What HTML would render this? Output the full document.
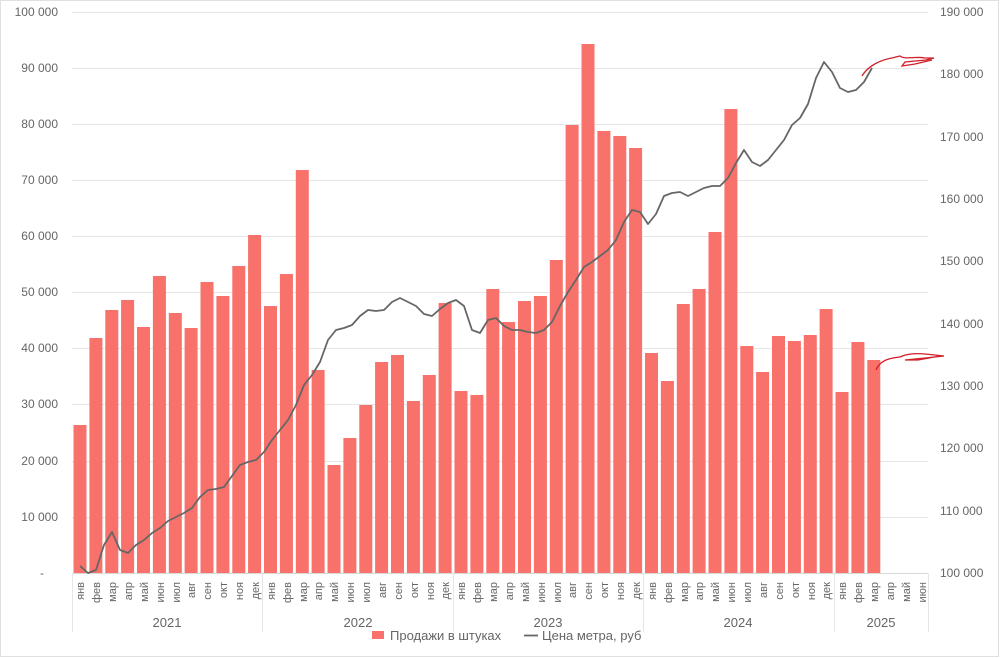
<!DOCTYPE html>
<html><head><meta charset="utf-8"><style>
body{margin:0;background:#fff}
svg{display:block;font-family:"Liberation Sans",sans-serif}
</style></head><body>
<svg width="1000" height="658" viewBox="0 0 1000 658" xmlns="http://www.w3.org/2000/svg">
<rect x="0.5" y="0.5" width="998" height="656" fill="#fff" stroke="#e0e0e0"/>
<g stroke="#e6e6e6" stroke-width="1">
<line x1="72" x2="928" y1="12.5" y2="12.5"/><line x1="72" x2="928" y1="68.5" y2="68.5"/><line x1="72" x2="928" y1="124.5" y2="124.5"/><line x1="72" x2="928" y1="180.5" y2="180.5"/><line x1="72" x2="928" y1="236.5" y2="236.5"/><line x1="72" x2="928" y1="292.5" y2="292.5"/><line x1="72" x2="928" y1="348.5" y2="348.5"/><line x1="72" x2="928" y1="404.5" y2="404.5"/><line x1="72" x2="928" y1="461.5" y2="461.5"/><line x1="72" x2="928" y1="517.5" y2="517.5"/>
<line x1="72" x2="928" y1="573.5" y2="573.5" stroke="#d9d9d9"/>
<line x1="72.5" x2="72.5" y1="573" y2="632"/><line x1="262.5" x2="262.5" y1="573" y2="632"/><line x1="453.5" x2="453.5" y1="573" y2="632"/><line x1="643.5" x2="643.5" y1="573" y2="632"/><line x1="834.5" x2="834.5" y1="573" y2="632"/><line x1="928.5" x2="928.5" y1="573" y2="632"/>
</g>
<g font-size="12" fill="#666" text-anchor="end">
<text x="58" y="16">100 000</text><text x="58" y="72">90 000</text><text x="58" y="128">80 000</text><text x="58" y="184">70 000</text><text x="58" y="240">60 000</text><text x="58" y="296">50 000</text><text x="58" y="352">40 000</text><text x="58" y="408">30 000</text><text x="58" y="465">20 000</text><text x="58" y="521">10 000</text><text x="44" y="577">-</text>
</g>
<g font-size="12" fill="#666" text-anchor="start">
<text x="940" y="16">190 000</text><text x="940" y="78">180 000</text><text x="940" y="141">170 000</text><text x="940" y="203">160 000</text><text x="940" y="265">150 000</text><text x="940" y="328">140 000</text><text x="940" y="390">130 000</text><text x="940" y="452">120 000</text><text x="940" y="515">110 000</text><text x="940" y="577">100 000</text>
</g>
<g fill="#f8716a">
<rect x="73.5" y="425" width="13" height="148"/><rect x="89.4" y="338" width="13" height="235"/><rect x="105.3" y="310" width="13" height="263"/><rect x="121.1" y="300" width="13" height="273"/><rect x="137" y="327" width="13" height="246"/><rect x="152.9" y="276" width="13" height="297"/><rect x="168.8" y="313" width="13" height="260"/><rect x="184.6" y="328" width="13" height="245"/><rect x="200.5" y="282" width="13" height="291"/><rect x="216.4" y="296" width="13" height="277"/><rect x="232.3" y="266" width="13" height="307"/><rect x="248.1" y="235" width="13" height="338"/>
<rect x="264" y="306" width="13" height="267"/><rect x="279.9" y="274" width="13" height="299"/><rect x="295.8" y="170" width="13" height="403"/><rect x="311.6" y="370" width="13" height="203"/><rect x="327.5" y="465" width="13" height="108"/><rect x="343.4" y="438" width="13" height="135"/><rect x="359.3" y="405" width="13" height="168"/><rect x="375.1" y="362" width="13" height="211"/><rect x="391" y="355" width="13" height="218"/><rect x="406.9" y="401" width="13" height="172"/><rect x="422.8" y="375" width="13" height="198"/><rect x="438.6" y="303" width="13" height="270"/>
<rect x="454.5" y="391" width="13" height="182"/><rect x="470.4" y="395" width="13" height="178"/><rect x="486.3" y="289" width="13" height="284"/><rect x="502.1" y="322" width="13" height="251"/><rect x="518" y="301" width="13" height="272"/><rect x="533.9" y="296" width="13" height="277"/><rect x="549.8" y="260" width="13" height="313"/><rect x="565.6" y="125" width="13" height="448"/><rect x="581.5" y="44" width="13" height="529"/><rect x="597.4" y="131" width="13" height="442"/><rect x="613.3" y="136" width="13" height="437"/><rect x="629.1" y="148" width="13" height="425"/>
<rect x="645" y="353" width="13" height="220"/><rect x="660.9" y="381" width="13" height="192"/><rect x="676.8" y="304" width="13" height="269"/><rect x="692.6" y="289" width="13" height="284"/><rect x="708.5" y="232" width="13" height="341"/><rect x="724.4" y="109" width="13" height="464"/><rect x="740.3" y="346" width="13" height="227"/><rect x="756.1" y="372" width="13" height="201"/><rect x="772" y="336" width="13" height="237"/><rect x="787.9" y="341" width="13" height="232"/><rect x="803.8" y="335" width="13" height="238"/><rect x="819.6" y="309" width="13" height="264"/>
<rect x="835.5" y="392" width="13" height="181"/><rect x="851.4" y="342" width="13" height="231"/><rect x="867.3" y="360" width="13" height="213"/>
</g>
<polyline fill="none" stroke="#666" stroke-width="1.8" stroke-linejoin="round" points="80,566 88,573 96,570 104,545 112,532 120,550 128,553 136,545 144,540 152,533 160,528 168,521 176,517 184,513 192,508 200,497 208,490 216,489 224,487 232,476 240,465 248,462 256,460 264,452 272,440 280,430 288,420 296,405 304,385 312,375 320,362 328,340 336,330 344,328 352,325 360,316 368,310 376,311 384,310 392,302 400,298 408,302 416,306 424,314 432,316 440,309 448,303 456,300 464,306 472,330 480,333 488,320 496,318 504,326 512,330 520,330 528,332 536,333 544,330 552,322 560,306 568,292 576,280 584,267 592,262 600,256 608,250 616,240 624,222 632,210 640,212 648,224 656,214 664,196 672,193 680,192 688,196 696,192 704,188 712,186 720,186 728,178 736,163 744,150 752,162 760,166 768,160 776,150 784,140 792,125 800,118 808,104 816,78 824,62 832,72 840,88 848,92 856,90 864,82 872,68"/>
<g fill="none" stroke="#d21f2a" stroke-width="1.3">
<path d="M862,76 C868,66 880,60 892,58 L900,56 C905,60 915,56 925,58 L934,58 L926,60 L905,62 L902,66 L915,64 L932,60"/>
<path d="M876,370 C880,360 890,358 900,357 C906,354 915,353 925,354 L944,356 L925,358 L905,360 L918,360 L940,356"/>
</g>
<g font-size="11" fill="#666" text-anchor="end">
<text transform="translate(84,582) rotate(-90)">янв</text><text transform="translate(100,582) rotate(-90)">фев</text><text transform="translate(116,582) rotate(-90)">мар</text><text transform="translate(132,582) rotate(-90)">апр</text><text transform="translate(148,582) rotate(-90)">май</text><text transform="translate(164,582) rotate(-90)">июн</text><text transform="translate(180,582) rotate(-90)">июл</text><text transform="translate(195,582) rotate(-90)">авг</text><text transform="translate(211,582) rotate(-90)">сен</text><text transform="translate(227,582) rotate(-90)">окт</text><text transform="translate(243,582) rotate(-90)">ноя</text><text transform="translate(259,582) rotate(-90)">дек</text>
<text transform="translate(275,582) rotate(-90)">янв</text><text transform="translate(291,582) rotate(-90)">фев</text><text transform="translate(307,582) rotate(-90)">мар</text><text transform="translate(322,582) rotate(-90)">апр</text><text transform="translate(338,582) rotate(-90)">май</text><text transform="translate(354,582) rotate(-90)">июн</text><text transform="translate(370,582) rotate(-90)">июл</text><text transform="translate(386,582) rotate(-90)">авг</text><text transform="translate(402,582) rotate(-90)">сен</text><text transform="translate(418,582) rotate(-90)">окт</text><text transform="translate(434,582) rotate(-90)">ноя</text><text transform="translate(449,582) rotate(-90)">дек</text>
<text transform="translate(465,582) rotate(-90)">янв</text><text transform="translate(481,582) rotate(-90)">фев</text><text transform="translate(497,582) rotate(-90)">мар</text><text transform="translate(513,582) rotate(-90)">апр</text><text transform="translate(529,582) rotate(-90)">май</text><text transform="translate(545,582) rotate(-90)">июн</text><text transform="translate(561,582) rotate(-90)">июл</text><text transform="translate(576,582) rotate(-90)">авг</text><text transform="translate(592,582) rotate(-90)">сен</text><text transform="translate(608,582) rotate(-90)">окт</text><text transform="translate(624,582) rotate(-90)">ноя</text><text transform="translate(640,582) rotate(-90)">дек</text>
<text transform="translate(656,582) rotate(-90)">янв</text><text transform="translate(672,582) rotate(-90)">фев</text><text transform="translate(688,582) rotate(-90)">мар</text><text transform="translate(703,582) rotate(-90)">апр</text><text transform="translate(719,582) rotate(-90)">май</text><text transform="translate(735,582) rotate(-90)">июн</text><text transform="translate(751,582) rotate(-90)">июл</text><text transform="translate(767,582) rotate(-90)">авг</text><text transform="translate(783,582) rotate(-90)">сен</text><text transform="translate(799,582) rotate(-90)">окт</text><text transform="translate(815,582) rotate(-90)">ноя</text><text transform="translate(830,582) rotate(-90)">дек</text>
<text transform="translate(846,582) rotate(-90)">янв</text><text transform="translate(862,582) rotate(-90)">фев</text><text transform="translate(878,582) rotate(-90)">мар</text><text transform="translate(894,582) rotate(-90)">апр</text><text transform="translate(910,582) rotate(-90)">май</text><text transform="translate(926,582) rotate(-90)">июн</text>
</g>
<g font-size="13" fill="#666" text-anchor="middle">
<text x="167" y="627">2021</text><text x="358" y="627">2022</text><text x="548" y="627">2023</text><text x="738" y="627">2024</text><text x="881" y="627">2025</text>
</g>
<rect x="372" y="631" width="12" height="8" fill="#f8716a"/>
<text x="390" y="640" font-size="13" fill="#666">Продажи в штуках</text>
<line x1="524" x2="538" y1="635.5" y2="635.5" stroke="#666" stroke-width="1.8"/>
<text x="542" y="640" font-size="13" fill="#666">Цена метра, руб</text>
</svg>
</body></html>
